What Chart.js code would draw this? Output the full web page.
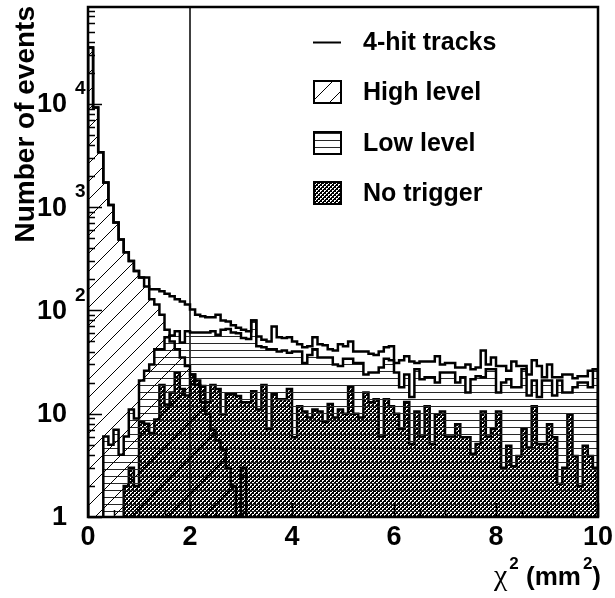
<!DOCTYPE html>
<html>
<head>
<meta charset="utf-8">
<script src="https://cdn.jsdelivr.net/npm/chart.js@4.4.1/dist/chart.umd.min.js"></script>
<style>
  body { margin: 0; background: #fff; }
  #wrap { width: 615px; height: 598px; }
</style>
</head>
<body>
<div id="wrap"><canvas id="chart" width="615" height="598"></canvas></div>
<script>
// histogram contents, 100 bins of 0.1 mm^2 from 0 to 10
const binWidth = 0.1;

const fourHit = [
  35000, 9200, 3400, 1730, 1050, 710, 485, 365, 300, 240,
  208, 208, 160, 160, 153, 145, 137, 128, 122, 114,
  102, 91, 88, 86, 86, 91, 80, 78, 72, 68,
  65, 63, 80, 56, 52, 50, 70, 55, 54, 55,
  50, 47, 44, 45, 55, 47, 46, 42, 41, 47,
  45, 50, 40, 40, 40, 38, 37, 40, 44, 45,
  31, 33, 36, 32, 31, 32, 32, 32, 36, 30,
  31, 31, 28, 28, 30, 27, 28, 41, 30, 35,
  29, 29, 26, 32, 29, 29, 24, 33, 29, 22.5,
  30, 22.5, 22.5, 24, 24, 22, 23, 23, 26, 27
];

const highLevel = [
  35000, 9200, 3400, 1730, 1050, 710, 485, 365, 300, 240,
  208, 170, 128, 114, 91, 65, 50, 42, 35, 29,
  24, 19, 13, 10, 7, 5.5, 4.5, 3, 2, 0,
  3, 0, 0, 0, 0, 0, 0, 0, 0, 0,
  0, 0, 0, 0, 0, 0, 0, 0, 0, 0,
  0, 0, 0, 0, 0, 0, 0, 0, 0, 0,
  0, 0, 0, 0, 0, 0, 0, 0, 0, 0,
  0, 0, 0, 0, 0, 0, 0, 0, 0, 0,
  0, 0, 0, 0, 0, 0, 0, 0, 0, 0,
  0, 0, 0, 0, 0, 0, 0, 0, 0, 0
];

const lowLevel = [
  0, 0, 0, 6, 5, 7, 4, 6, 11, 9,
  21, 26, 30, 42, 42, 55, 57, 63, 49, 63,
  61, 61, 61, 61, 63, 58, 65, 66, 61, 60,
  54, 53, 80, 45, 44, 42, 42, 40, 41, 39,
  40, 40, 31, 37, 42, 35, 35, 35, 30, 29,
  34, 34, 31, 31, 24, 25, 25, 28, 34, 33,
  25, 18, 24, 14.5, 27, 21.6, 22.5, 22.5, 20, 25,
  25, 25, 20, 22.5, 16, 21.6, 23, 22.5, 27, 27,
  16, 20, 21.6, 18, 18, 27, 15, 21, 14.5, 21,
  21, 15, 21, 16, 16, 18, 20, 20, 18, 27
];

const noTrigger = [
  0, 0, 0, 0, 0, 0, 0, 2, 3, 2,
  8.3, 8, 6.5, 8.8, 19, 12.3, 16, 25, 17.3, 15,
  24, 21, 18.5, 13, 19, 17.3, 9.9, 15.4, 15.4, 14.8,
  12.9, 12.9, 16.5, 11, 19, 7.1, 15.4, 13.8, 13.8, 17.3,
  5.9, 11.8, 10.5, 9.2, 11, 10.5, 8.3, 12.4, 9.2, 11,
  10, 18, 10, 9.2, 16, 12.9, 13.8, 6, 13.8, 11.8,
  10, 7.1, 13, 5.1, 10.5, 6, 11.8, 5.1, 9.9, 10.5,
  6, 6, 7.9, 5.9, 5.9, 4.1, 5.1, 10.5, 6, 7.1,
  10.5, 3, 4.9, 3.1, 3.9, 7.1, 4.7, 11.8, 5.1, 5.1,
  7.9, 5.9, 2.1, 3, 9.9, 3.9, 2, 4.9, 3.9, 3
];

const seriesLabels = ['4-hit tracks', 'High level', 'Low level', 'No trigger'];
const cutValue = 2;

const xMin = 0, xMax = 10;
const yMin = 1, yMax = 86500;
const xTicks = [0, 2, 4, 6, 8, 10];
const yTicks = [1, 10, 100, 1000, 10000];
const yTickBase = ['1', '10', '10', '10', '10'];
const yTickExp = ['', '', '2', '3', '4'];
const yTitle = 'Number of events';

const FONT = '"Liberation Sans", Arial, sans-serif';
const chart = document.querySelector('#chart').getContext('2d');

// empty bins are pushed below the axis so the outline drops to the frame
const floorValue = 0.5;
function binPoints(values) {
  const pts = [{ x: 0, y: floorValue }];
  values.forEach((v, i) => pts.push({ x: i * binWidth, y: v > 0 ? v : floorValue }));
  pts.push({ x: values.length * binWidth, y: floorValue });
  return pts;
}

// pixel hatch patterns, transparent between the strokes
function makePattern(size, shade, isInk) {
  const c = document.createElement('canvas');
  c.width = size; c.height = size;
  const g = c.getContext('2d');
  const img = g.createImageData(size, size);
  for (let py = 0; py < size; py++) {
    for (let px = 0; px < size; px++) {
      if (isInk(px, py)) {
        const k = (py * size + px) * 4;
        img.data[k] = shade; img.data[k + 1] = shade; img.data[k + 2] = shade;
        img.data[k + 3] = 255;
      }
    }
  }
  g.putImageData(img, 0, 0);
  return chart.createPattern(c, 'repeat');
}

const diagHatch = makePattern(18, 0, (x, y) => (x + y) % 18 === 17);
const horizHatch = makePattern(7, 40, (x, y) => y === 0);
const crossHatch = makePattern(4, 0, (x, y) => {
  const s = (x + y) % 4, d = (x - y + 4) % 4;
  return s === 0 || s === 1 || d === 0;
});

function histo(label, values, pattern) {
  return {
    label: label,
    data: binPoints(values),
    stepped: true,
    borderColor: '#000',
    borderWidth: 2.5,
    borderJoinStyle: 'miter',
    backgroundColor: pattern || 'transparent',
    fill: pattern ? 'start' : false,
    pointRadius: 0
  };
}

// frame, inward ticks, labels and legend in the old ROOT look
const rootStyle = {
  id: 'rootStyle',
  afterDraw(c) {
    const g = c.ctx;
    const a = c.chartArea;
    const xs = c.scales.x, ys = c.scales.y;
    g.save();
    g.strokeStyle = '#000';
    g.fillStyle = '#000';

    // ticks
    g.lineWidth = 1.5;
    g.beginPath();
    for (let v = xMin; v <= xMax + 1e-9; v += 0.5) {
      const px = Math.round(xs.getPixelForValue(v)) + 0.5;
      const len = xTicks.includes(Math.round(v * 10) / 10) ? 14 : 7;
      g.moveTo(px, a.bottom);
      g.lineTo(px, a.bottom - len);
    }
    for (let d = 1; d <= yMax; d *= 10) {
      for (let k = 1; k <= 9; k++) {
        const v = k * d;
        if (v > yMax) break;
        const py = Math.round(ys.getPixelForValue(v)) + 0.5;
        g.moveTo(a.left, py);
        g.lineTo(a.left + (k === 1 ? 14 : 7), py);
      }
    }
    g.stroke();

    // frame
    g.lineWidth = 2.5;
    g.strokeRect(a.left, a.top, a.right - a.left, a.bottom - a.top);

    // x tick labels
    g.font = 'bold 27px ' + FONT;
    g.textAlign = 'center';
    g.textBaseline = 'middle';
    xTicks.forEach(v => g.fillText(String(v), xs.getPixelForValue(v), 538));

    // y tick labels with raised exponents
    yTicks.forEach((v, i) => {
      const py = ys.getPixelForValue(v);
      g.font = 'bold 27px ' + FONT;
      g.textAlign = 'right';
      g.textBaseline = 'middle';
      g.fillText(yTickBase[i], 67, py + 1);
      if (yTickExp[i]) {
        g.font = 'bold 19px ' + FONT;
        g.textAlign = 'left';
        g.fillText(yTickExp[i], 75, py - 15);
      }
    });

    // y title
    g.save();
    g.translate(34, 6);
    g.rotate(-Math.PI / 2);
    g.font = 'bold 28px ' + FONT;
    g.textAlign = 'right';
    g.textBaseline = 'alphabetic';
    g.fillText(yTitle, 0, 0);
    g.restore();

    // x title: chi^2 (mm^2)
    const base = 585;
    const parts = [
      { t: '\u03c7', f: '30px "Liberation Serif", serif', dy: 0 },
      { t: '2', f: 'bold 17px ' + FONT, dy: -16 },
      { t: ' (mm', f: 'bold 26px ' + FONT, dy: 0 },
      { t: '2', f: 'bold 17px ' + FONT, dy: -16 },
      { t: ')', f: 'bold 26px ' + FONT, dy: 0 }
    ];
    let total = 0;
    parts.forEach(p => { g.font = p.f; p.w = g.measureText(p.t).width; total += p.w + (p.t === '2' ? 2 : 0); });
    let cx = 601 - total;
    g.textAlign = 'left';
    g.textBaseline = 'alphabetic';
    parts.forEach(p => {
      g.font = p.f;
      if (p.t === '2') cx += 2;
      g.fillText(p.t, cx, base + p.dy);
      cx += p.w;
    });

    // legend
    const rows = [42, 92, 143, 193];
    const ds = c.data.datasets;
    g.font = 'bold 25px ' + FONT;
    g.textAlign = 'left';
    g.textBaseline = 'middle';
    rows.forEach((ry, i) => {
      const d = ds[i];
      if (i === 0) {
        g.lineWidth = 2;
        g.beginPath();
        g.moveTo(313, ry + 0.5);
        g.lineTo(341, ry + 0.5);
        g.stroke();
      } else {
        g.fillStyle = d.backgroundColor;
        g.fillRect(314, ry - 11, 27, 22);
        g.fillStyle = '#000';
        g.lineWidth = 2;
        g.strokeRect(314, ry - 11, 27, 22);
      }
      g.fillText(d.label, 363, ry + 1);
    });
    g.restore();
  }
};

new Chart(chart, {
  type: 'line',
  data: {
    datasets: [
      histo(seriesLabels[0], fourHit, null),
      histo(seriesLabels[1], highLevel, diagHatch),
      histo(seriesLabels[2], lowLevel, horizHatch),
      histo(seriesLabels[3], noTrigger, crossHatch),
      {
        label: 'cut',
        data: [{ x: cutValue, y: yMin }, { x: cutValue, y: yMax }],
        borderColor: '#000',
        borderWidth: 1.5,
        pointRadius: 0,
        fill: false
      }
    ]
  },
  options: {
    responsive: false,
    animation: false,
    devicePixelRatio: 1,
    layout: { padding: { left: 88, right: 17, top: 7, bottom: 81 } },
    scales: {
      x: { type: 'linear', min: xMin, max: xMax, display: false },
      y: { type: 'logarithmic', min: yMin, max: yMax, display: false }
    },
    plugins: {
      legend: { display: false },
      tooltip: { enabled: false }
    }
  },
  plugins: [rootStyle]
});
</script>
</body>
</html>
